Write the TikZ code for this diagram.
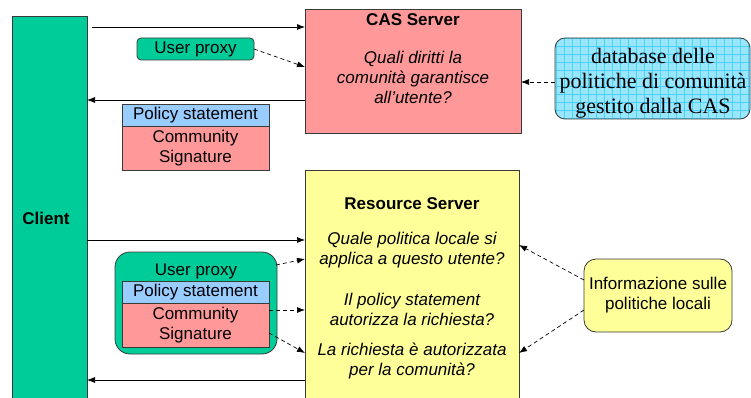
\documentclass[tikz,border=0pt]{standalone}
\usepackage{fontspec}
\setmainfont{Liberation Sans}
\newfontfamily\timesfont{Liberation Serif}
\usetikzlibrary{arrows.meta}
\definecolor{cgreen}{HTML}{00CC99}
\definecolor{cpink}{HTML}{FF9999}
\definecolor{cblue}{HTML}{99CCFF}
\definecolor{cyellow}{HTML}{FFFF99}
\definecolor{dbfill}{HTML}{99E6FF}
\definecolor{dbgrid}{HTML}{4CD0F7}
\definecolor{edge}{HTML}{3A3A3A}
\begin{document}
\begin{tikzpicture}[x=1pt,y=-1pt,
  box/.style={draw=edge, line width=0.8pt, outer sep=0pt, inner sep=0pt, anchor=north west},
  txt/.style={font=\fontsize{17}{20}\selectfont, align=center, inner sep=0pt},
  btxt/.style={font=\fontsize{17}{20}\selectfont\bfseries, align=center, inner sep=0pt},
  itxt/.style={font=\fontsize{17}{20}\selectfont\itshape, align=center, inner sep=0pt},
  arr/.style={-{Latex[length=8pt,width=6pt]}, line width=0.7pt},
  darr/.style={arr, dash pattern=on 4pt off 3pt}]
\useasboundingbox (0,0) rectangle (751,398);
\clip (0,0) rectangle (751,398);

% Client
\node[box, fill=cgreen, minimum width=75pt, minimum height=400pt] (client) at (12,16) {};
\node[btxt] (clientlbl) at (46,218) {Client};

% CAS server
\node[box, fill=cpink, minimum width=216pt, minimum height=124pt] (cas) at (305,9) {};
\node[btxt] (castitle) at (413,20) {CAS Server};
\node[itxt] (casq) at (413,77) {Quali diritti la\\comunità garantisce\\all’utente?};

% small user proxy
\node[box, fill=cgreen, rounded corners=4pt, minimum width=117pt, minimum height=22pt, font=\fontsize{17}{20}\selectfont] (up1) at (137,38) {User proxy};

% policy statement + signature (top)
\node[box, fill=cblue, minimum width=147pt, minimum height=22pt, font=\fontsize{17}{20}\selectfont] (ps1) at (122,104) {Policy statement};
\node[box, fill=cpink, minimum width=147pt, minimum height=44pt, font=\fontsize{17}{20}\selectfont, align=center] (cs1) at (122,126) {Community\\Signature};

% database
\node[box, fill=dbfill, rounded corners=10pt, minimum width=195pt, minimum height=81pt,
  path picture={\draw[dbgrid, line width=0.4pt] ([xshift=-1pt,yshift=-1pt]path picture bounding box.south west) grid[step=8pt] (path picture bounding box.north east);}] (db) at (555,38) {};
\node[font=\timesfont\fontsize{22}{25}\selectfont, align=center, inner sep=0pt] (dbtxt) at (653,83) {database delle\\politiche di comunità\\gestito dalla CAS};

% Resource server
\node[box, fill=cyellow, minimum width=214pt, minimum height=240pt] (rs) at (305,170) {};
\node[btxt] (rstitle) at (412,204) {Resource Server};
\node[itxt] (rsq1) at (412,250) {Quale politica locale si\\applica a questo utente?};
\node[itxt] (rsq2) at (412,309) {Il policy statement\\autorizza la richiesta?};
\node[itxt] (rsq3) at (412,361) {La richiesta è autorizzata\\per la comunità?};

% big user proxy
\node[box, fill=cgreen, rounded corners=15pt, minimum width=162pt, minimum height=102pt] (up2) at (115,252) {};
\node[txt] (up2lbl) at (196,271) {User proxy};
\node[box, fill=cblue, minimum width=147pt, minimum height=22pt, font=\fontsize{17}{20}\selectfont] (ps2) at (122,281) {Policy statement};
\node[box, fill=cpink, minimum width=147pt, minimum height=44pt, font=\fontsize{17}{20}\selectfont, align=center] (cs2) at (122,303) {Community\\Signature};

% Informazione
\node[box, fill=cyellow, rounded corners=12pt, minimum width=148pt, minimum height=73pt, font=\fontsize{17}{20}\selectfont, align=center] (info) at (584,259) {Informazione sulle\\politiche locali};

% connectors
\draw[arr] ([xshift=5pt,yshift=-11pt]client.north east) -- ([yshift=-11pt]client.north east -| cas.west);
\draw[darr] (up1.east) -- ([yshift=4pt]cas.west);
\draw[arr] ([yshift=-29pt]cas.west) -- ([yshift=-29pt]cas.west -| client.east);
\draw[darr] ([yshift=-3.5pt]db.west) -- ([yshift=-3.5pt]db.west -| cas.east);

\draw[arr] ([yshift=-70pt]rs.north west -| client.east) -- ([yshift=-70pt]rs.north west);
\draw[arr] ([yshift=-210pt]rs.north west) -- ([yshift=-210pt]rs.north west -| client.east);

\draw[darr] ([yshift=38pt,xshift=-1pt]up2.east) -- ([yshift=-89pt]rs.north west);
\draw[darr] ([yshift=15pt]cs2.east) -- ([yshift=15pt]cs2.east -| rs.west);
\draw[darr] ([yshift=-8pt]cs2.east) -- ([yshift=-183pt]rs.north west);

\draw[darr] ([yshift=15.5pt]info.west) -- ([yshift=-75pt]rs.north east);
\draw[darr] ([yshift=-14.5pt]info.west) -- ([yshift=-183pt]rs.north east);
\end{tikzpicture}
\end{document}
